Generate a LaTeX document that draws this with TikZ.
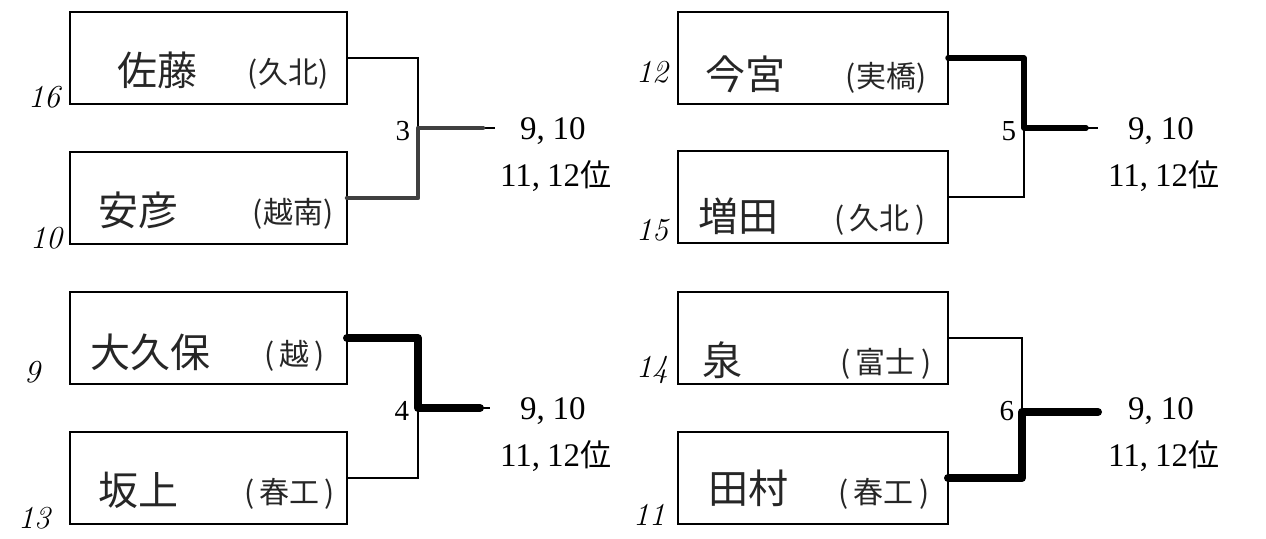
\documentclass[tikz,border=0pt]{standalone}
\usepackage{fontspec}
\newfontfamily\jp{Noto Sans CJK JP}
\newfontfamily\numf{Liberation Serif}
\begin{document}
\begin{tikzpicture}[x=1pt,y=-1pt,
  every node/.style={inner sep=0pt, outer sep=0pt},
  entry/.style={draw, line width=1.6pt, minimum width=277pt, minimum height=92pt, anchor=north west},
  nm/.style={font=\jp\fontsize{40}{40}\selectfont, text=black!85},
  sch/.style={font=\jp\fontsize{30}{30}\selectfont, text=black!85},
  seed/.style={font=\fontsize{32}{32}\itshape\selectfont, anchor=east},
  mno/.style={font=\numf\fontsize{29}{29}\selectfont, anchor=east},
  res/.style={font=\numf\fontsize{33}{33}\selectfont, anchor=west},
  conn/.style={line width=1.3pt},
  win/.style={line width=#1, line cap=round, line join=round},
  win/.default=7pt]
\useasboundingbox (0,0) rectangle (1266,538);

% boxes
\node[entry] (b1) at (70,12) {};
\node[entry] (b2) at (70,152) {};
\node[entry] (b3) at (70,292) {};
\node[entry] (b4) at (70,432) {};
\node[entry, minimum width=270pt] (b5) at (678,12) {};
\node[entry, minimum width=270pt] (b6) at (678,151) {};
\node[entry, minimum width=270pt] (b7) at (678,292) {};
\node[entry, minimum width=270pt] (b8) at (678,432) {};

% names
\node[nm] (n1) at (157,70) {佐藤};  \node[sch] (s1) at (288,74) {(久北)};
\node[nm] (n2) at (138,210) {安彦}; \node[sch] (s2) at (293,214) {(越南)};
\node[nm] (n3) at (150,352) {大久保}; \node[sch] (s3) at (295,356) {(\,越\,)};
\node[nm] (n4) at (138,490) {坂上}; \node[sch] (s4) at (290,494) {(\,春工\,)};
\node[nm] (n5) at (745,74) {今宮};  \node[sch] (s5) at (886,78) {(実橋)};
\node[nm] (n6) at (738,216) {増田}; \node[sch] (s6) at (880,220) {(\,久北\,)};
\node[nm] (n7) at (722,360) {泉};   \node[sch] (s7) at (886,364) {(\,富士\,)};
\node[nm] (n8) at (748,488) {田村}; \node[sch] (s8) at (884,494) {(\,春工\,)};

% seeds
\node[seed] (d1) at (60,97) {16};
\node[seed] (d2) at (62,238) {10};
\node[seed] (d3) at (40,372) {9};
\node[seed] (d4) at (50,518) {13};
\node[seed] (d5) at (668,72) {12};
\node[seed] (d6) at (668,230) {15};
\node[seed] (d7) at (668,370) {14};
\node[seed] (d8) at (665,515) {11};

% junctions
\coordinate (j3) at (418,128); \coordinate (e3) at (495,128);
\coordinate (j4) at (418,408); \coordinate (e4) at (490,408);
\coordinate (j5) at (1024,128); \coordinate (e5) at (1098,128);
\coordinate (j6) at (1022,412); \coordinate (e6) at (1098,412);

% brackets
\draw[conn] (b1.east) -| (j3) |- (b2.east);
\draw[conn] (j3) -- (e3);
\draw[conn] (b3.east) -| (j4) |- (b4.east);
\draw[conn] (j4) -- (e4);
\draw[conn] (b5.east) -| (j5) |- (b6.east);
\draw[conn] (j5) -- (e5);
\draw[conn] (b7.east) -| (j6) |- (b8.east);
\draw[conn] (j6) -- (e6);

% winners
\draw[win=4.5pt, black!75] (b2.east) -| (j3) -- ([xshift=-12pt]e3);
\draw[win=8pt] (b3.east) -| (j4) -- ([xshift=-10pt]e4);
\draw[win=5.5pt] (b5.east) -| (j5) -- ([xshift=-12pt]e5);
\draw[win=8pt] (b8.east) -| (j6) -- (e6);

% match numbers
\node[mno] (m3) at (410,131) {3};
\node[mno] (m4) at (409,411) {4};
\node[mno] (m5) at (1016,131) {5};
\node[mno] (m6) at (1014,411) {6};

% results
\node[res] (r3a) at (520,131) {9,\hspace{8pt}10};
\node[res] (r3b) at (500,176) {11,\hspace{7pt}12{\jp\fontsize{31}{31}\selectfont 位}};
\node[res] (r4a) at (520,411) {9,\hspace{8pt}10};
\node[res] (r4b) at (500,456) {11,\hspace{7pt}12{\jp\fontsize{31}{31}\selectfont 位}};
\node[res] (r5a) at (1128,131) {9,\hspace{8pt}10};
\node[res] (r5b) at (1108,176) {11,\hspace{7pt}12{\jp\fontsize{31}{31}\selectfont 位}};
\node[res] (r6a) at (1128,411) {9,\hspace{8pt}10};
\node[res] (r6b) at (1108,456) {11,\hspace{7pt}12{\jp\fontsize{31}{31}\selectfont 位}};
\end{tikzpicture}
\end{document}
